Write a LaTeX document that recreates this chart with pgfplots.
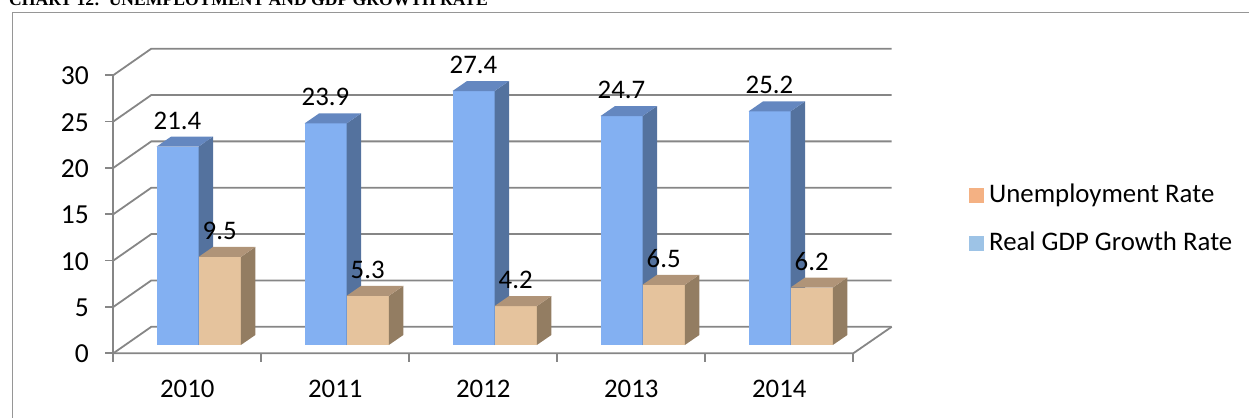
\documentclass[border=0pt]{standalone}
\usepackage{fontspec}
\setmainfont{Carlito}
\newfontfamily\titlefont{Liberation Serif}
\usepackage{pgfplots}
\usepackage{pgfplotstable}
\pgfplotsset{compat=1.18}
\definecolor{gfront}{RGB}{131,176,242}
\definecolor{gside}{RGB}{84,114,158}
\definecolor{gtop}{RGB}{100,135,192}
\definecolor{ufront}{RGB}{229,195,157}
\definecolor{uside}{RGB}{147,125,98}
\definecolor{utop}{RGB}{176,148,120}
\definecolor{legu}{RGB}{244,177,131}
\definecolor{legg}{RGB}{157,195,230}
\definecolor{gridc}{RGB}{134,134,134}
\definecolor{framec}{RGB}{150,150,150}

\pgfplotstableread{
k year gdp unemp
0 2010 21.4 9.5
1 2011 23.9 5.3
2 2012 27.4 4.2
3 2013 24.7 6.5
4 2014 25.2 6.2
}\datatable

\newcommand\lf{\fontsize{26.8bp}{31bp}\selectfont}
\newcommand\tf{\fontsize{27.5bp}{31bp}\selectfont}

% 3D bar: #1 x0, #2 x1, #3 value, #4 front, #5 side, #6 top
\newcommand\cube[6]{%
  \pgfmathsetmacro\cBot{0.89}%
  \pgfmathsetmacro\cTop{#3+0.89}%
  \pgfmathsetmacro\cBotB{0.89+1.08}%
  \pgfmathsetmacro\cTopB{#3+0.89+1.08}%
  \pgfmathsetmacro\cXa{#1+14.5}%
  \pgfmathsetmacro\cXb{#2+14.5}%
  \edef\cTmp{%
   \noexpand\addplot[fill=#4,draw=none] coordinates {(#1,\cBot)(#2,\cBot)(#2,\cTop)(#1,\cTop)} --cycle;
   \noexpand\addplot[fill=#5,draw=none] coordinates {(#2,\cBot)(\cXb,\cBotB)(\cXb,\cTopB)(#2,\cTop)} --cycle;
   \noexpand\addplot[fill=#6,draw=none] coordinates {(#1,\cTop)(\cXa,\cTopB)(\cXb,\cTopB)(#2,\cTop)} --cycle;
  }\cTmp
}

\begin{document}
\begin{tikzpicture}
\begin{axis}[
  hide axis, scale only axis,
  width=1249bp, height=418bp,
  xmin=0, xmax=1249, ymin=-6.979, ymax=38.112,
  clip=false,
  every axis plot/.append style={mark=none},
]
% frame
\addplot[framec, line width=1.5bp] coordinates {(12.3,-9)(12.3,36.78)(1260,36.78)};
% back wall gridlines and left wall diagonals
\addplot[gridc, line width=1.8bp] coordinates {(113.3,0)(151.3,2.86)(891.7,2.86)};
\addplot[gridc, line width=1.8bp] coordinates {(113.3,5)(151.3,7.86)(891.7,7.86)};
\addplot[gridc, line width=1.8bp] coordinates {(113.3,10)(151.3,12.86)(891.7,12.86)};
\addplot[gridc, line width=1.8bp] coordinates {(113.3,15)(151.3,17.86)(891.7,17.86)};
\addplot[gridc, line width=1.8bp] coordinates {(113.3,20)(151.3,22.86)(891.7,22.86)};
\addplot[gridc, line width=1.8bp] coordinates {(113.3,25)(151.3,27.86)(891.7,27.86)};
\addplot[gridc, line width=1.8bp] coordinates {(113.3,30)(151.3,32.86)(891.7,32.86)};
% floor
\addplot[gridc, line width=1.8bp] coordinates {(113.3,0)(853.3,0)(891.7,2.86)};
% front y axis and ticks
\addplot[gridc, line width=1.8bp] coordinates {(113.3,0)(113.3,30)};
\addplot[gridc, line width=1.8bp] coordinates {(105,0)(113.3,0)};
\addplot[gridc, line width=1.8bp] coordinates {(105,5)(113.3,5)};
\addplot[gridc, line width=1.8bp] coordinates {(105,10)(113.3,10)};
\addplot[gridc, line width=1.8bp] coordinates {(105,15)(113.3,15)};
\addplot[gridc, line width=1.8bp] coordinates {(105,20)(113.3,20)};
\addplot[gridc, line width=1.8bp] coordinates {(105,25)(113.3,25)};
\addplot[gridc, line width=1.8bp] coordinates {(105,30)(113.3,30)};
% category ticks
\addplot[gridc, line width=1.8bp] coordinates {(113.3,0)(113.3,-0.95)};
\addplot[gridc, line width=1.8bp] coordinates {(261.3,0)(261.3,-0.95)};
\addplot[gridc, line width=1.8bp] coordinates {(409.3,0)(409.3,-0.95)};
\addplot[gridc, line width=1.8bp] coordinates {(557.3,0)(557.3,-0.95)};
\addplot[gridc, line width=1.8bp] coordinates {(705.3,0)(705.3,-0.95)};
\addplot[gridc, line width=1.8bp] coordinates {(853.3,0)(853.3,-0.95)};

% bars
\pgfplotsforeachungrouped \i in {0,...,4}{%
  \pgfplotstablegetelem{\i}{gdp}\of\datatable \let\vG\pgfplotsretval
  \pgfplotstablegetelem{\i}{unemp}\of\datatable \let\vU\pgfplotsretval
  \pgfmathsetmacro\xA{156.5+148*\i}%
  \pgfmathsetmacro\xB{\xA+42}%
  \pgfmathsetmacro\xC{\xB+42.3}%
  \cube{\xA}{\xB}{\vG}{gfront}{gside}{gtop}%
  \cube{\xB}{\xC}{\vU}{ufront}{uside}{utop}%
}

% value labels
\addplot[draw=none, point meta=explicit symbolic, nodes near coords={\pgfplotspointmeta},
  every node near coord/.append style={anchor=base, inner sep=0pt, font=\lf}]
  table[x expr=\thisrow{k}*148+177.5, y expr=\thisrow{gdp}+2.78, meta=gdp]{\datatable};
\addplot[draw=none, point meta=explicit symbolic, nodes near coords={\pgfplotspointmeta},
  every node near coord/.append style={anchor=base, inner sep=0pt, font=\lf}]
  table[x expr=\thisrow{k}*148+219.7, y expr=\thisrow{unemp}+2.78, meta=unemp]{\datatable};
% year labels
\addplot[draw=none, point meta=explicit symbolic, nodes near coords={\pgfplotspointmeta},
  every node near coord/.append style={anchor=base, inner sep=0pt, font=\lf}]
  table[x expr=\thisrow{k}*148+187.3, y expr=-4.75, meta=year]{\datatable};
% y tick labels
\addplot[draw=none, point meta=explicit symbolic, nodes near coords={\pgfplotspointmeta},
  every node near coord/.append style={anchor=base east, inner sep=0pt, font=\tf}]
  table[x expr=89, y expr=\thisrow{v}-1.02, meta=v, row sep=\\]{v\\0\\5\\10\\15\\20\\25\\30\\};

% legend
\addplot[fill=legu, draw=none] coordinates {(969,16.24)(983.5,16.24)(983.5,17.8)(969,17.8)} --cycle;
\addplot[fill=legg, draw=none] coordinates {(969,11.04)(983.5,11.04)(983.5,12.6)(969,12.6)} --cycle;
\node[anchor=base west, inner sep=0pt, font=\lf] at (axis cs:989,16.25) {Unemployment Rate};
\node[anchor=base west, inner sep=0pt, font=\lf] at (axis cs:989,11.07) {Real GDP Growth Rate};

% title (cut at the top edge, as in the reference)
\node[anchor=base west, inner sep=0pt, font=\titlefont\bfseries\fontsize{17.6bp}{20bp}\selectfont]
  at (axis cs:9,37.465) {CHART 12:\ \ UNEMPLOYMENT AND GDP GROWTH RATE};
\end{axis}
\pgfresetboundingbox
\path[use as bounding box] (0,0) rectangle (1249bp,418bp);
\end{tikzpicture}
\end{document}
